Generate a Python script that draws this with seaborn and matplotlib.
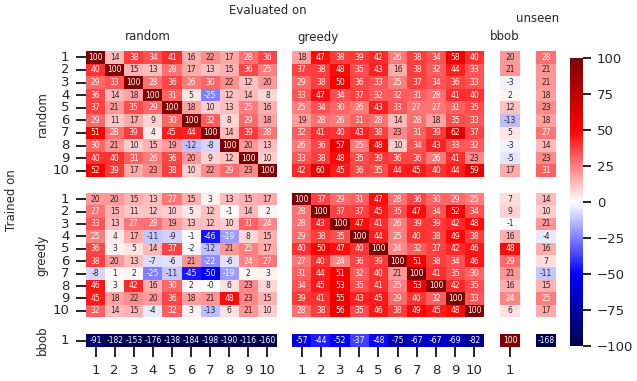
import numpy as np
import matplotlib
matplotlib.use("Agg")
import matplotlib.pyplot as plt
import seaborn as sns

sns.set_style("ticks")
plt.rcParams['font.family'] = ['DejaVu Sans']

tick_labels = ["1", "2", "3", "4", "5", "6", "7", "8", "9", "10"]
groups = ["random", "greedy", "bbob"]
eval_groups = ["random", "greedy", "bbob", "unseen"]

# trained on random
rand_rand = [
    [100, 14, 38, 34, 41, 16, 22, 17, 28, 36],
    [40, 100, 15, 13, 28, 17, 13, 15, 36, 25],
    [29, 33, 100, 28, 36, 26, 30, 22, 12, 20],
    [36, 14, 18, 100, 31, 5, -25, 12, 14, 8],
    [37, 21, 35, 29, 100, 18, 10, 13, 25, 16],
    [29, 11, 17, 9, 30, 100, 32, 8, 29, 18],
    [51, 28, 39, 4, 45, 44, 100, 14, 39, 28],
    [30, 21, 10, 15, 19, -12, -8, 100, 20, 13],
    [40, 40, 31, 26, 36, 20, 9, 12, 100, 10],
    [52, 39, 17, 23, 38, 10, 22, 29, 23, 100],
]
rand_greedy = [
    [18, 47, 38, 39, 42, 26, 38, 34, 58, 40],
    [37, 38, 48, 35, 43, 16, 38, 32, 44, 33],
    [29, 38, 50, 36, 33, 25, 37, 34, 36, 33],
    [33, 47, 34, 37, 32, 32, 31, 28, 41, 40],
    [25, 34, 30, 26, 43, 33, 27, 27, 31, 35],
    [19, 28, 26, 31, 28, 14, 28, 18, 35, 33],
    [32, 41, 40, 43, 38, 23, 31, 39, 62, 37],
    [26, 36, 57, 25, 48, 10, 34, 43, 33, 32],
    [33, 38, 48, 35, 39, 36, 36, 26, 41, 23],
    [42, 60, 45, 36, 35, 44, 45, 40, 44, 59],
]
rand_bbob = [20, 21, -3, 2, 12, -13, 5, -3, -5, 17]
rand_unseen = [28, 21, 21, 18, 23, 18, 27, 14, 23, 31]

# trained on greedy
greedy_rand = [
    [20, 20, 15, 13, 27, 15, 3, 13, 15, 17],
    [27, 15, 11, 12, 10, 5, 12, -1, 14, 2],
    [33, 13, 27, 28, 19, 13, 12, 10, 31, 24],
    [25, 4, 17, -11, -9, -1, -46, -19, 8, 15],
    [36, 3, 5, 14, 37, -2, -12, 21, 25, 17],
    [38, 20, 13, -7, -6, 21, -22, -6, 24, 27],
    [-8, 1, 2, -25, -11, -45, -50, -19, 2, 3],
    [46, 3, 42, 16, 30, 2, -0.3, 6, 23, 8],
    [45, 18, 22, 20, 36, 18, 21, 48, 23, 15],
    [32, 14, 15, -4, 32, 3, -13, 6, 21, 10],
]
greedy_greedy = [
    [100, 37, 29, 31, 47, 28, 36, 30, 29, 25],
    [28, 100, 37, 37, 45, 35, 47, 34, 52, 34],
    [28, 43, 100, 47, 41, 26, 39, 39, 42, 48],
    [29, 38, 35, 100, 44, 25, 40, 38, 49, 38],
    [40, 50, 47, 40, 100, 24, 32, 37, 42, 46],
    [27, 40, 24, 36, 39, 100, 51, 38, 34, 46],
    [31, 44, 51, 32, 40, 21, 100, 41, 35, 30],
    [34, 45, 53, 35, 41, 25, 53, 100, 42, 35],
    [39, 41, 55, 43, 45, 29, 40, 32, 100, 33],
    [28, 38, 56, 35, 46, 38, 49, 45, 48, 100],
]
greedy_bbob = [7, 9, -1, 16, 48, 29, 21, 16, 24, 6]
greedy_unseen = [14, 10, 21, -4, 16, 7, -11, 15, 25, 17]

# trained on bbob
bbob_rand = [-91, -182, -153, -176, -138, -184, -198, -190, -116, -160]
bbob_greedy = [-57, -44, -52, -37, -48, -75, -67, -67, -69, -82]
bbob_bbob = [100]
bbob_unseen = [-168]

blocks = [
    [np.array(rand_rand), np.array(rand_greedy),
     np.array(rand_bbob).reshape(-1, 1), np.array(rand_unseen).reshape(-1, 1)],
    [np.array(greedy_rand), np.array(greedy_greedy),
     np.array(greedy_bbob).reshape(-1, 1), np.array(greedy_unseen).reshape(-1, 1)],
    [np.array(bbob_rand).reshape(1, -1), np.array(bbob_greedy).reshape(1, -1),
     np.array(bbob_bbob).reshape(1, 1), np.array(bbob_unseen).reshape(1, 1)],
]

W, H = 637, 381
fig = plt.figure(figsize=(W / 100, H / 100), dpi=100)


def ax_px(x0, y0, x1, y1):
    return fig.add_axes([x0 / W, 1 - y1 / H, (x1 - x0) / W, (y1 - y0) / H])


col_ext = [(86, 277), (292, 484), (500, 520), (536, 556)]
row_ext = [(51, 177), (193, 317), (334, 347)]
cax = ax_px(570, 58, 583, 346)

for i, (y0, y1) in enumerate(row_ext):
    for j, (x0, x1) in enumerate(col_ext):
        ax = ax_px(x0, y0, x1, y1)
        data = blocks[i][j]
        nr, nc = data.shape
        sns.heatmap(data, ax=ax, cmap="seismic", vmin=-100, vmax=100,
                    annot=True, fmt=".0f", annot_kws={"fontsize": 5.5},
                    cbar=(i == 0 and j == 0), cbar_ax=cax if (i == 0 and j == 0) else None,
                    xticklabels=tick_labels[:nc], yticklabels=tick_labels[:nr])
        ax.tick_params(axis="both", length=7, width=1.2, pad=5, labelsize=9.5,
                       color="black")
        if j == 0:
            ax.set_yticklabels(tick_labels[:nr], rotation=0)
        else:
            ax.set_yticks([])
        if i == 2 and j < 3:
            ax.set_xticklabels(tick_labels[:nc], rotation=0)
        else:
            ax.set_xticks([])

cax.tick_params(length=6, width=1.2, pad=4, labelsize=9.5, color="black")
cax.set_yticks([-100, -75, -50, -25, 0, 25, 50, 75, 100])

fs = 8.5
fig.text(268 / W, 1 - 11 / H, "Evaluated on", ha="center", va="center", fontsize=fs)
fig.text(148 / W, 1 - 37 / H, "random", ha="center", va="center", fontsize=fs)
fig.text(318 / W, 1 - 37 / H, "greedy", ha="center", va="center", fontsize=fs)
fig.text(505 / W, 1 - 37 / H, "bbob", ha="center", va="center", fontsize=fs)
fig.text(538 / W, 1 - 18 / H, "unseen", ha="center", va="center", fontsize=fs)
fig.text(42 / W, 1 - 114 / H, "random", ha="center", va="center", rotation=90, fontsize=fs)
fig.text(42 / W, 1 - 255 / H, "greedy", ha="center", va="center", rotation=90, fontsize=fs)
fig.text(42 / W, 1 - 340 / H, "bbob", ha="center", va="center", rotation=90, fontsize=fs)
fig.text(12 / W, 1 - 200 / H, "Trained on", ha="center", va="center", rotation=90, fontsize=fs)

fig.savefig("out.png", dpi=100)
